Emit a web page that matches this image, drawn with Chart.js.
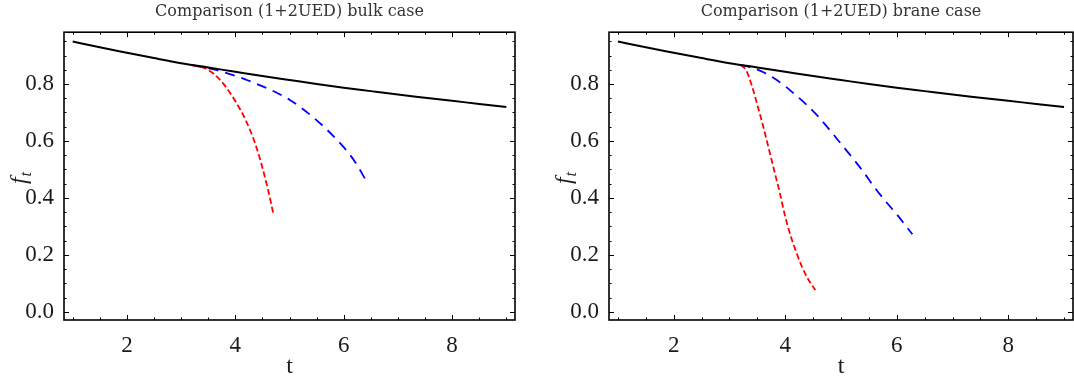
<!DOCTYPE html>
<html>
<head>
<meta charset="utf-8">
<script src="https://cdn.jsdelivr.net/npm/chart.js@4.4.1/dist/chart.umd.min.js"></script>
<style>
    html, body { margin: 0; padding: 0; background: #fff; }
    #wrap { display: flex; width: 1074px; height: 381px; }
    canvas { display: block; }
</style>
</head>
<body>
<div id="wrap">
    <canvas id="bulk" width="537" height="381"></canvas>
    <canvas id="brane" width="537" height="381"></canvas>
</div>
<script>
// values
const tBlack = [1, 1.5, 2, 2.5, 3, 3.5, 4, 4.5, 5, 5.5, 6, 6.5, 7, 7.5, 8, 8.5, 9];
const fBlack = [0.949, 0.929, 0.910, 0.891, 0.873, 0.858, 0.843, 0.828, 0.814, 0.800, 0.787, 0.775, 0.763, 0.752, 0.741, 0.730, 0.719];

const tBulkRed = [3.2, 3.4, 3.6, 3.8, 4.0, 4.2, 4.4, 4.6, 4.7];
const fBulkRed = [0.866, 0.858, 0.836, 0.796, 0.740, 0.670, 0.572, 0.432, 0.346];
const tBulkBlue = [3.2, 3.4, 3.6, 3.8, 4.0, 4.2, 4.4, 4.6, 4.8, 5.0, 5.2, 5.4, 5.6, 5.8, 6.0, 6.2, 6.44];
const fBulkBlue = [0.866, 0.859, 0.851, 0.841, 0.829, 0.815, 0.800, 0.784, 0.766, 0.745, 0.719, 0.689, 0.656, 0.619, 0.578, 0.529, 0.452];

const tBraneRed = [3.2, 3.3, 3.4, 3.5, 3.6, 3.7, 3.8, 3.9, 4.0, 4.1, 4.2, 4.3, 4.4, 4.54];
const fBraneRed = [0.867, 0.848, 0.795, 0.727, 0.655, 0.577, 0.498, 0.420, 0.334, 0.265, 0.208, 0.158, 0.118, 0.076];
const tBraneBlue = [3.2, 3.44, 3.6, 3.8, 4.0, 4.2, 4.4, 4.6, 4.8, 5.0, 5.2, 5.4, 5.6, 5.8, 6.0, 6.28];
const fBraneBlue = [0.867, 0.855, 0.842, 0.820, 0.792, 0.759, 0.724, 0.684, 0.638, 0.590, 0.542, 0.492, 0.437, 0.388, 0.342, 0.272];

const xTicks = [2, 4, 6, 8];
const yTicks = [0, 0.2, 0.4, 0.6, 0.8];

const SERIF = "'Liberation Serif', 'Times New Roman', serif";
Chart.defaults.font.family = SERIF;
Chart.defaults.font.size = 23;
Chart.defaults.color = '#222';

const toPoints = (xs, ys) => xs.map((x, i) => ({ x: x, y: ys[i] }));

// Mathematica style frame with inward ticks on all four sides
const frameTicks = {
    id: 'frameTicks',
    afterDatasetsDraw(chart) {
        const { ctx, chartArea: a, scales: { x, y } } = chart;
        ctx.save();
        ctx.strokeStyle = '#000';
        ctx.lineWidth = 1;
        ctx.beginPath();
        for (let v = 1; v <= 9.001; v += 0.5) {
            const px = Math.round(x.getPixelForValue(v)) + 0.5;
            const len = xTicks.includes(v) ? 5 : 2.5;
            ctx.moveTo(px, a.bottom); ctx.lineTo(px, a.bottom - len);
            ctx.moveTo(px, a.top); ctx.lineTo(px, a.top + len);
        }
        for (let i = 0; i <= 19; i++) {
            const v = i * 0.05;
            const py = Math.round(y.getPixelForValue(v)) + 0.5;
            const len = i % 4 === 0 ? 5 : 2.5;
            ctx.moveTo(a.left, py); ctx.lineTo(a.left + len, py);
            ctx.moveTo(a.right, py); ctx.lineTo(a.right - len, py);
        }
        ctx.stroke();
        ctx.lineWidth = 1.6;
        ctx.strokeRect(a.left, a.top, a.right - a.left, a.bottom - a.top);

        // y axis label f_t
        ctx.translate(a.left - 38, (a.top + a.bottom) / 2);
        ctx.rotate(-Math.PI / 2);
        ctx.fillStyle = '#222';
        ctx.textBaseline = 'alphabetic';
        ctx.textAlign = 'left';
        ctx.font = 'italic 24px ' + SERIF;
        const w = ctx.measureText('f').width;
        ctx.fillText('f', -8, 0);
        ctx.font = 'italic 16px ' + SERIF;
        ctx.fillText('t', -8 + w + 1, 5);
        ctx.restore();
    }
};

function makeChart(id, title, red, blue, plotLeft, padRight) {
    return new Chart(document.getElementById(id), {
        type: 'line',
        data: {
            datasets: [
                {
                    data: toPoints(tBlack, fBlack),
                    borderColor: '#000',
                    borderWidth: 2,
                    cubicInterpolationMode: 'monotone'
                },
                {
                    data: red,
                    borderColor: '#ff0000',
                    borderWidth: 1.8,
                    borderDash: [6, 3],
                    cubicInterpolationMode: 'monotone'
                },
                {
                    data: blue,
                    borderColor: '#0000ff',
                    borderWidth: 1.8,
                    borderDash: [10, 7],
                    cubicInterpolationMode: 'monotone'
                }
            ]
        },
        options: {
            responsive: false,
            animation: false,
            devicePixelRatio: 1,
            elements: { point: { radius: 0 } },
            layout: { padding: { left: 0, right: padRight, top: 0, bottom: 0 } },
            plugins: {
                legend: { display: false },
                tooltip: { enabled: false },
                title: {
                    display: true,
                    text: title,
                    fullSize: false,
                    color: '#333',
                    font: { family: "'DejaVu Serif', serif", size: 16, weight: 'normal', lineHeight: 1.2 },
                    padding: { top: 2, bottom: 11 }
                }
            },
            scales: {
                x: {
                    type: 'linear',
                    min: 0.84,
                    max: 9.16,
                    grid: { display: false },
                    border: { display: false },
                    afterBuildTicks: (s) => { s.ticks = xTicks.map(v => ({ value: v })); },
                    afterFit: (s) => { s.height = 61; },
                    ticks: {
                        color: '#1a1a1a',
                        padding: 4,
                        maxRotation: 0,
                        font: { family: SERIF, size: 23, weight: 'normal' }
                    },
                    title: {
                        display: true,
                        text: 't',
                        color: '#1a1a1a',
                        font: { family: SERIF, size: 24, weight: 'normal' },
                        padding: { top: 0, bottom: 0 }
                    }
                },
                y: {
                    type: 'linear',
                    min: -0.029,
                    max: 0.982,
                    grid: { display: false },
                    border: { display: false },
                    afterBuildTicks: (s) => { s.ticks = yTicks.map(v => ({ value: v })); },
                    afterFit: (s) => { s.width = plotLeft; },
                    ticks: {
                        color: '#1a1a1a',
                        padding: 2,
                        font: { family: SERIF, size: 23, weight: 'normal' },
                        callback: (v) => v.toFixed(1)
                    }
                }
            }
        },
        plugins: [frameTicks]
    });
}

makeChart('bulk', 'Comparison (1+2UED) bulk case',
    toPoints(tBulkRed, fBulkRed), toPoints(tBulkBlue, fBulkBlue), 64, 22);
makeChart('brane', 'Comparison (1+2UED) brane case',
    toPoints(tBraneRed, fBraneRed), toPoints(tBraneBlue, fBraneBlue), 72, 1);
</script>
</body>
</html>
